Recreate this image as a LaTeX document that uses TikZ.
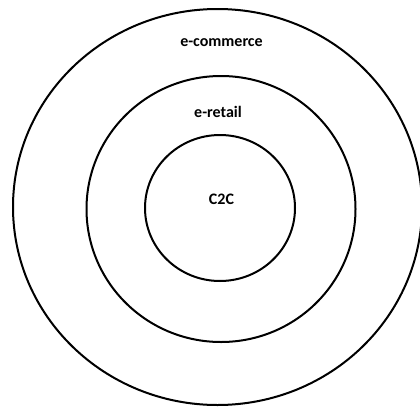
\documentclass[tikz,border=0pt]{standalone}
\usepackage{fontspec}
\setmainfont{Carlito}
\usepackage{tikz}
\usetikzlibrary{positioning}

\tikzset{
  ring/.style={draw,line width=2pt},
  lbl/.style={font=\bfseries\fontsize{16}{19}\selectfont,inner sep=0pt}
}

\begin{document}
\begin{tikzpicture}[x=1pt,y=-1pt]
  \useasboundingbox (0,0) rectangle (420,407);
  % rings, outer to inner
  \draw[ring] (217.5,207) ellipse (204.5pt and 198pt);
  \draw[ring] (221,209) ellipse (134.5pt and 133pt);
  \draw[ring] (220,208) ellipse (75pt and 73pt);
  % labels
  \node[lbl] (ecom) at (221.5,43) {e-commerce};
  \node[lbl] (eret) at (218,112) {e-retail};
  \node[lbl] (ctoc) at (221.5,199) {C2C};
\end{tikzpicture}
\end{document}
